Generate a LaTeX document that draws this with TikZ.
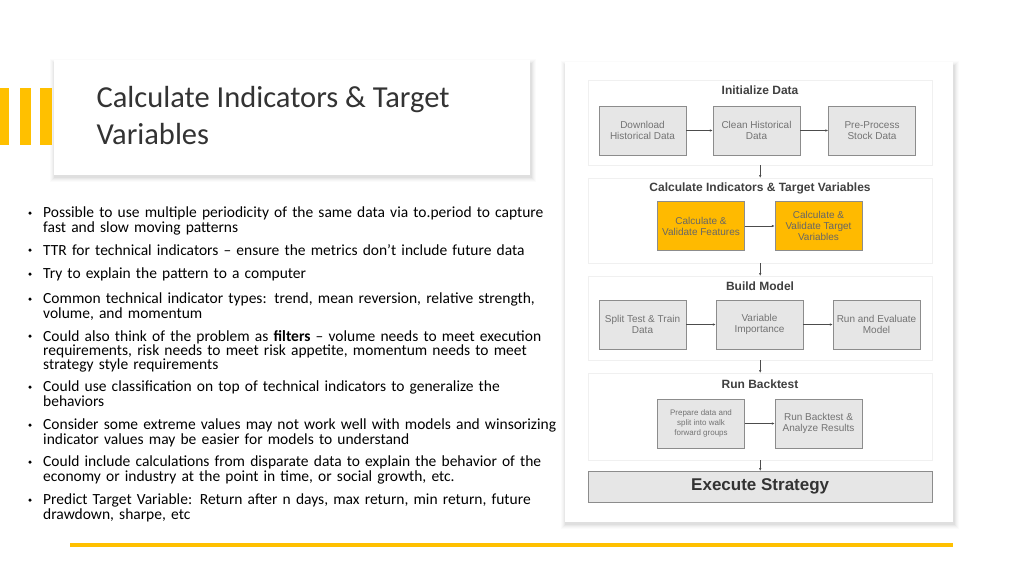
\documentclass[tikz,border=0pt]{standalone}
\usepackage{fontspec}
\setmainfont{Carlito}
\newfontfamily\arialf{Liberation Sans}
\usetikzlibrary{arrows.meta}
\definecolor{ylw}{HTML}{FFC000}
\definecolor{bx}{HTML}{E6E6E6}
\hyphenpenalty=10000
\exhyphenpenalty=10000
\begin{document}
\begin{tikzpicture}[x=1pt,y=-1pt,
  sect/.style={fill=white,draw=black!6},
  gbox/.style={draw=black!45,fill=bx,minimum width=87pt,minimum height=49pt,align=center,font=\arialf\fontsize{10}{11}\selectfont,text=black!55,inner sep=1pt},
  ybox/.style={gbox,fill=ylw!90!orange,text=black!60},
  hdr/.style={font=\arialf\bfseries\fontsize{12}{12}\selectfont,text=black!75},
  arr/.style={-{Latex[length=3pt,width=2.5pt]},black!70,semithick},
  bul/.style={anchor=north west,align=left,text width=514pt,font=\fontsize{15.5}{12.8}\selectfont,text=black,inner sep=0pt},
  dot/.style={circle,fill=black,inner sep=0pt,minimum size=3.5pt},
]
\useasboundingbox (0,0) rectangle (1024,576);
\fill[white] (0,0) rectangle (1024,576);
% shadows
\foreach \d/\op in {6/0.015,5/0.02,4/0.025,3/0.03,2/0.035}{
  \fill[black,opacity=\op] (54-\d+2,60-\d+5) rectangle (530+\d,175+\d+1);
  \fill[black,opacity=\op] (565-\d+2,62-\d+5) rectangle (953+\d,522+\d+1);
}
\node[fill=white,minimum width=476pt,minimum height=115pt,anchor=north west,inner sep=0pt] (tc) at (54,60) {};
\node[anchor=west,align=left,font=\fontsize{30.5}{37}\selectfont,text=black!80] (title) at (93,116) {Calculate Indicators \& Target\\Variables};
% bars
\fill[ylw] (0,88) rectangle (9,145);
\fill[ylw] (20,88) rectangle (31,145);
\fill[ylw] (40,88) rectangle (52,145);
% bottom line
\fill[ylw] (70,543) rectangle (953,547);
% bullets
\foreach \y/\t [count=\i] in {
 207/{Possible to use multiple periodicity of the same data via to.period to capture fast and slow moving patterns},
 244/{TTR for technical indicators -- ensure the metrics don't include future data},
 268/{Try to explain the pattern to a computer},
 293/{Common technical indicator types: trend, mean reversion, relative strength, volume, and momentum},
 330/{Could also think of the problem as \textbf{filters} -- volume needs to meet execution requirements, risk needs to meet risk appetite, momentum needs to meet strategy style requirements},
 381/{Could use classification on top of technical indicators to generalize the behaviors},
 419/{Consider some extreme values may not work well with models and winsorizing indicator values may be easier for models to understand},
 456/{Could include calculations from disparate data to explain the behavior of the economy or industry at the point in time, or social growth, etc.},
 494/{Predict Target Variable: Return after n days, max return, min return, future drawdown, sharpe, etc}}{
 \node[bul] (bt\i) at (43,\y) {\t};
 \node[dot] (bd\i) at (30,\y+6) {};
}
% right card
\node[fill=white,minimum width=388pt,minimum height=460pt,anchor=north west,inner sep=0pt] (rc) at (565,62) {};
\node[sect,minimum width=344pt,minimum height=85pt,anchor=north west] (s1) at (588,80) {};
\node[sect,minimum width=344pt,minimum height=85pt,anchor=north west] (s2) at (588,178) {};
\node[sect,minimum width=344pt,minimum height=84pt,anchor=north west] (s3) at (588,276) {};
\node[sect,minimum width=344pt,minimum height=87pt,anchor=north west] (s4) at (588,373) {};
\node[draw=black!45,fill=bx,minimum width=344pt,minimum height=31pt,anchor=north west,font=\arialf\bfseries\fontsize{17}{18}\selectfont,text=black!80] (ex) at (588,471) {Execute Strategy};
\node[hdr] (h1) at (760,90) {Initialize Data};
\node[hdr] (h2) at (760,188) {Calculate Indicators \& Target Variables};
\node[hdr] (h3) at (760,286) {Build Model};
\node[hdr] (h4) at (760,384) {Run Backtest};
\node[gbox] (a1) at (642.5,130.5) {Download\\Historical Data};
\node[gbox] (a2) at (756.5,130.5) {Clean Historical\\Data};
\node[gbox] (a3) at (872,130.5) {Pre-Process\\Stock Data};
\node[ybox] (c1) at (701,226) {Calculate \&\\Validate Features};
\node[ybox] (c2) at (818.5,226) {Calculate \&\\Validate Target\\Variables};
\node[gbox] (m1) at (642.5,324.5) {Split Test \& Train\\Data};
\node[gbox] (m2) at (759.5,324.5) {Variable\\Importance};
\node[gbox] (m3) at (876.5,324.5) {Run and Evaluate\\Model};
\node[gbox,font=\arialf\fontsize{8}{10}\selectfont] (r1) at (701,423.5) {Prepare data and\\split into walk\\forward groups};
\node[gbox] (r2) at (818.5,423.5) {Run Backtest \&\\Analyze Results};
\draw[arr] (a1) -- (a2); \draw[arr] (a2) -- (a3);
\draw[arr] (c1) -- (c2);
\draw[arr] (m1) -- (m2); \draw[arr] (m2) -- (m3);
\draw[arr] (r1) -- (r2);
\draw[arr] (s1.south) -- (s2.north);
\draw[arr] (s2.south) -- (s3.north);
\draw[arr] (s3.south) -- (s4.north);
\draw[arr] (s4.south) -- (ex.north);
\end{tikzpicture}
\end{document}
